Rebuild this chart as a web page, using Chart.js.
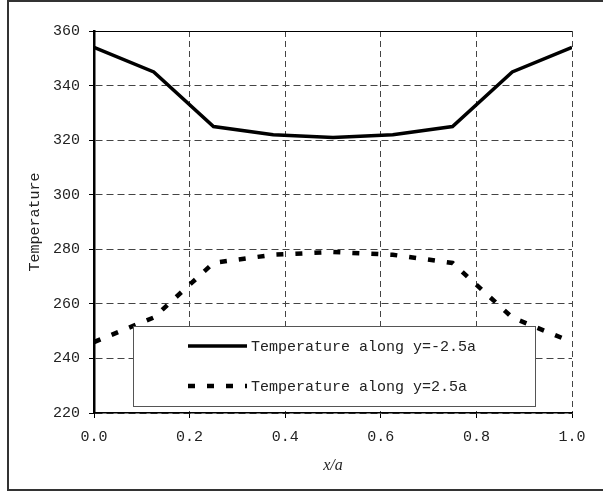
<!DOCTYPE html>
<html>
<head>
<meta charset="utf-8">
<script src="https://cdn.jsdelivr.net/npm/chart.js@4"></script>
<style>
body { margin: 0; background: #fff; }
</style>
</head>
<body>
<canvas id="tempChart" width="603" height="495"></canvas>
<script>
// positions along x/a and the two temperature profiles
var xPos = [0, 0.125, 0.25, 0.375, 0.5, 0.625, 0.75, 0.875, 1];
var tempLower = [354, 345, 325, 322, 321, 322, 325, 345, 354];
var tempUpper = [246, 255, 275, 278, 279, 278, 275, 255, 246];
var seriesLabels = ['Temperature along y=-2.5a', 'Temperature along y=2.5a'];

var monoFont = '"Liberation Mono", "DejaVu Sans Mono", monospace';

function pairs(ys) {
	var out = [];
	for (var i = 0; i < xPos.length; i++) {
		out.push({x: xPos[i], y: ys[i]});
	}
	return out;
}

// frame, solid top edge and the boxed legend inside the plot
var decor = {
	id: 'decor',
	afterDatasetsDraw: function(chart) {
		var ctx = chart.ctx;
		var a = chart.chartArea;
		ctx.save();
		ctx.strokeStyle = '#000';
		ctx.lineWidth = 1;
		ctx.beginPath();
		ctx.moveTo(a.left, a.top + 0.5);
		ctx.lineTo(a.right, a.top + 0.5);
		ctx.stroke();

		var bx = a.left + 39, by = a.top + 295, bw = 402, bh = 80;
		ctx.fillStyle = '#fff';
		ctx.fillRect(bx, by, bw, bh);
		ctx.strokeStyle = '#555';
		ctx.lineWidth = 1;
		ctx.strokeRect(bx + 0.5, by + 0.5, bw, bh);

		chart.data.datasets.forEach(function(ds, i) {
			var y = by + 20 + i * 40;
			ctx.strokeStyle = ds.borderColor;
			ctx.lineWidth = ds.borderWidth;
			ctx.setLineDash(ds.borderDash || []);
			ctx.beginPath();
			ctx.moveTo(bx + 55, y);
			ctx.lineTo(bx + 114, y);
			ctx.stroke();
			ctx.setLineDash([]);
			ctx.fillStyle = '#222';
			ctx.font = '15px ' + monoFont;
			ctx.textBaseline = 'middle';
			ctx.fillText(ds.label, bx + 118, y + 1);
		});
		ctx.restore();
	},
	afterDraw: function(chart) {
		var ctx = chart.ctx;
		ctx.save();
		ctx.strokeStyle = '#333';
		ctx.lineWidth = 2;
		ctx.beginPath();
		ctx.moveTo(603, 1);
		ctx.lineTo(8, 1);
		ctx.lineTo(8, 490);
		ctx.lineTo(603, 490);
		ctx.stroke();
		ctx.restore();
	}
};

Chart.defaults.font.family = monoFont;
Chart.defaults.font.size = 15;
Chart.defaults.color = '#222';

var ctx = document.getElementById('tempChart').getContext('2d');
var chart = new Chart(ctx, {
	type: 'line',
	data: {
		datasets: [{
			label: seriesLabels[0],
			data: pairs(tempLower),
			borderColor: '#000',
			borderWidth: 3.5,
			pointRadius: 0,
			tension: 0,
			fill: false
		}, {
			label: seriesLabels[1],
			data: pairs(tempUpper),
			borderColor: '#000',
			borderWidth: 4.5,
			borderDash: [7, 12],
			borderCapStyle: 'butt',
			pointRadius: 0,
			tension: 0,
			fill: false
		}]
	},
	options: {
		responsive: false,
		animation: false,
		layout: {padding: {left: 0, right: 31, top: 31, bottom: 0}},
		plugins: {
			legend: {display: false},
			tooltip: {enabled: false}
		},
		scales: {
			x: {
				type: 'linear',
				min: 0,
				max: 1,
				ticks: {
					stepSize: 0.2,
					padding: 10,
					maxRotation: 0,
					callback: function(v) { return v.toFixed(1); }
				},
				grid: {
					color: '#444',
					lineWidth: 1,
					tickLength: 5,
					tickColor: '#000',
					tickBorderDash: []
				},
				border: {color: '#000', width: 1.5, dash: [6, 4]},
				title: {
					display: true,
					text: 'x/a',
					font: {family: '"Liberation Serif", serif', style: 'italic', size: 16},
					padding: {top: 0, bottom: 20}
				},
				afterFit: function(s) { s.height = 82; }
			},
			y: {
				min: 220,
				max: 360,
				ticks: {stepSize: 20, padding: 9},
				grid: {
					color: '#444',
					lineWidth: 1,
					tickLength: 5,
					tickColor: '#000',
					tickBorderDash: []
				},
				border: {color: '#000', width: 2.5, dash: [7, 4]},
				title: {
					display: true,
					text: 'Temperature',
					font: {size: 15},
					padding: {top: 26, bottom: 0}
				},
				afterFit: function(s) { s.width = 94; }
			}
		}
	},
	plugins: [decor]
});
</script>
</body>
</html>
